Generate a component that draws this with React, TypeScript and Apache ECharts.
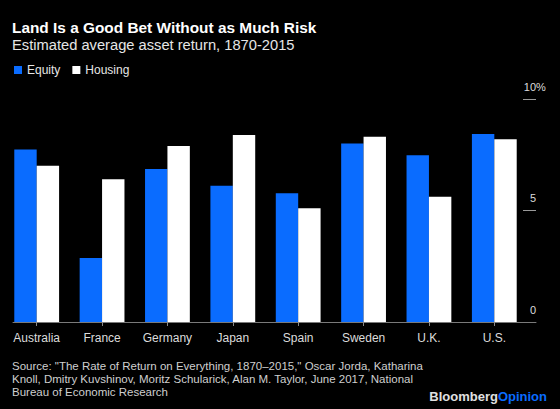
import React, { useEffect, useRef } from "react";
import * as echarts from "echarts";

const categories = ["Australia", "France", "Germany", "Japan", "Spain", "Sweden", "U.K.", "U.S."];
const equity = [7.74, 2.87, 6.86, 6.11, 5.77, 8.01, 7.48, 8.43];
const housing = [7.01, 6.4, 7.89, 8.39, 5.1, 8.31, 5.62, 8.19];
const yTicks = [0, 5, 10];

const titleText = "Land Is a Good Bet Without as Much Risk";
const subtitleText = "Estimated average asset return, 1870-2015";
const sourceText =
  'Source: "The Rate of Return on Everything, 1870–2015," Oscar Jorda, Katharina\nKnoll, Dmitry Kuvshinov, Moritz Schularick, Alan M. Taylor, June 2017, National\nBureau of Economic Research';

const FONT = "'Liberation Sans', Arial, sans-serif";
const BLUE = "#0a6cff";

export default function App() {
  const ref = useRef<HTMLDivElement>(null);
  useEffect(() => {
    document.body.style.margin = "0";
    const chart = echarts.init(ref.current!, null, { renderer: "svg" });
    chart.setOption({
      animation: false,
      backgroundColor: "#000",
      textStyle: { fontFamily: FONT },
      title: [
        {
          text: titleText,
          left: 12,
          top: 18,
          padding: 0,
          textStyle: { color: "#fff", fontSize: 15.4, fontWeight: "bold", lineHeight: 18, fontFamily: FONT },
        },
        {
          text: subtitleText,
          left: 12,
          top: 36,
          padding: 0,
          textStyle: { color: "#e6e6e6", fontSize: 14.7, fontWeight: "normal", lineHeight: 18, fontFamily: FONT },
        },
        {
          text: sourceText,
          left: 12,
          top: 360,
          padding: 0,
          textStyle: { color: "#cfcfcf", fontSize: 11.5, fontWeight: "normal", lineHeight: 12.6, fontFamily: FONT },
        },
        {
          text: "{b|Bloomberg}{o|Opinion}",
          right: 13,
          top: 388,
          padding: 0,
          textStyle: {
            fontSize: 13,
            fontFamily: FONT,
            rich: {
              b: { color: "#e0e0e0", fontSize: 13, fontWeight: "bold", fontFamily: FONT, lineHeight: 16 },
              o: { color: BLUE, fontSize: 13, fontWeight: "bold", fontFamily: FONT, lineHeight: 16 },
            },
          },
        },
      ],
      legend: {
        data: ["Equity", "Housing"],
        left: 14,
        top: 64,
        padding: 0,
        icon: "rect",
        itemWidth: 8,
        itemHeight: 8,
        itemGap: 12,
        selectedMode: false,
        textStyle: { color: "#e6e6e6", fontSize: 12, fontFamily: FONT },
      },
      grid: [
        { left: 4, right: 33, top: 99, bottom: 87 },
        { left: 13, right: 24, top: 99, bottom: 87 },
        { left: 523, right: 24, top: 99, bottom: 87 },
      ],
      xAxis: [
        {
          type: "category",
          gridIndex: 0,
          data: categories,
          axisLine: { show: false },
          axisTick: { show: true, alignWithLabel: true, length: 4, lineStyle: { color: "#8a8a8a" } },
          axisLabel: { color: "#dcdcdc", fontSize: 12, margin: 10, fontFamily: FONT },
        },
        {
          type: "value",
          gridIndex: 1,
          min: 0,
          max: 1,
          axisLine: { show: true, onZero: false, lineStyle: { color: "#7a7a7a", width: 1 } },
          axisTick: { show: false },
          axisLabel: { show: false },
          splitLine: { show: false },
        },
        { type: "value", gridIndex: 2, min: 0, max: 1, show: false },
      ],
      yAxis: [
        { type: "value", gridIndex: 0, min: 0, max: 10, show: false },
        { type: "value", gridIndex: 1, min: 0, max: 10, show: false },
        {
          type: "value",
          gridIndex: 2,
          min: 0,
          max: 10,
          interval: 5,
          position: "right",
          axisLine: { show: false, onZero: false },
          axisTick: { show: false },
          splitLine: { show: true, lineStyle: { color: "#9a9a9a", width: 1 } },
          axisLabel: {
            inside: true,
            margin: 0,
            align: "right",
            verticalAlign: "bottom",
            padding: [0, 0, 7, 0],
            color: "#dcdcdc",
            fontSize: 11,
            lineHeight: 11,
            fontFamily: FONT,
            formatter: (v: number) => (v === yTicks[2] ? "{n|" + v + "}{p|%}" : String(v)),
            rich: {
              n: { align: "left", color: "#dcdcdc", fontSize: 11, lineHeight: 11, fontFamily: FONT },
              p: { width: 0, align: "left", color: "#dcdcdc", fontSize: 11, lineHeight: 11, fontFamily: FONT },
            },
          },
        },
      ],
      series: [
        {
          name: "Equity",
          type: "bar",
          xAxisIndex: 0,
          yAxisIndex: 0,
          data: equity,
          barWidth: 22.4,
          barGap: "0%",
          itemStyle: { color: BLUE },
        },
        {
          name: "Housing",
          type: "bar",
          xAxisIndex: 0,
          yAxisIndex: 0,
          data: housing,
          barWidth: 22.4,
          barGap: "0%",
          itemStyle: { color: "#ffffff" },
        },
      ],
    });
    return () => chart.dispose();
  }, []);
  return (
    <div
      ref={ref}
      style={{ position: "fixed", left: 0, top: 0, width: 560, height: 409, background: "#000" }}
    />
  );
}
